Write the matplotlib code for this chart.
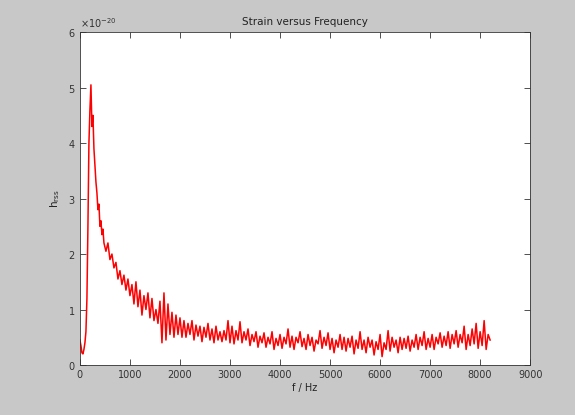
import numpy as np
import matplotlib
matplotlib.use("Agg")
import matplotlib.pyplot as plt
from matplotlib.ticker import ScalarFormatter

# Low-frequency part (Hz, strain in units of 1e-20)
freq_low = [0, 20, 40, 60, 80, 100, 120, 140, 160, 180, 200, 220, 240, 260,
            280, 300, 320, 340, 360, 380, 400, 420, 440, 460, 480]
h_low = [0.45, 0.35, 0.22, 0.2, 0.28, 0.4, 0.6, 1.2, 2.5, 4.0, 4.6, 5.05, 4.3,
         4.5, 3.9, 3.6, 3.3, 3.1, 2.8, 2.9, 2.5, 2.6, 2.35, 2.45, 2.2]

# Higher-frequency part, 40 Hz steps from 520 Hz to 8200 Hz
freq_high_start, freq_high_step = 520, 40
h_high = [
    2.05, 2.2, 1.9, 2.0, 1.75, 1.85, 1.55, 1.7, 1.45, 1.62,
    1.35, 1.55, 1.25, 1.45, 1.1, 1.5, 1.05, 1.35, 0.9, 1.25,
    1.0, 1.3, 0.85, 1.2, 0.8, 1.0, 0.75, 1.15, 0.4, 1.3,
    0.45, 1.1, 0.55, 0.95, 0.5, 0.9, 0.55, 0.85, 0.5, 0.8,
    0.5, 0.75, 0.55, 0.8, 0.45, 0.72, 0.52, 0.7, 0.42, 0.68,
    0.5, 0.75, 0.45, 0.65, 0.4, 0.7, 0.45, 0.6, 0.42, 0.62,
    0.45, 0.8, 0.4, 0.7, 0.38, 0.62, 0.45, 0.78, 0.4, 0.6,
    0.45, 0.65, 0.35, 0.55, 0.42, 0.6, 0.32, 0.52, 0.4, 0.58,
    0.32, 0.5, 0.38, 0.6, 0.28, 0.48, 0.35, 0.55, 0.3, 0.5,
    0.38, 0.65, 0.32, 0.52, 0.28, 0.5, 0.4, 0.6, 0.33, 0.48,
    0.28, 0.55, 0.35, 0.5, 0.25, 0.45, 0.38, 0.62, 0.3, 0.5,
    0.35, 0.58, 0.28, 0.48, 0.22, 0.45, 0.32, 0.55, 0.28, 0.5,
    0.25, 0.48, 0.32, 0.52, 0.2, 0.45, 0.3, 0.6, 0.28, 0.45,
    0.22, 0.5, 0.32, 0.45, 0.18, 0.42, 0.28, 0.55, 0.15, 0.4,
    0.28, 0.62, 0.25, 0.5, 0.32, 0.45, 0.22, 0.5, 0.28, 0.48,
    0.3, 0.52, 0.25, 0.45, 0.32, 0.55, 0.28, 0.5, 0.35, 0.6,
    0.28, 0.48, 0.32, 0.55, 0.28, 0.5, 0.38, 0.58, 0.32, 0.52,
    0.35, 0.6, 0.3, 0.55, 0.38, 0.62, 0.32, 0.55, 0.4, 0.7,
    0.28, 0.55, 0.35, 0.65, 0.38, 0.75, 0.3, 0.6, 0.35, 0.8,
    0.28, 0.55, 0.45,
]
freq_high = freq_high_start + freq_high_step * np.arange(len(h_high))

freq = np.concatenate([freq_low, freq_high])
h = np.concatenate([h_low, h_high]) * 1e-20

title = "Strain versus Frequency"
xlabel = "f / Hz"
ylabel = r"h$_{\rm rss}$"
xticks = [0, 1000, 2000, 3000, 4000, 5000, 6000, 7000, 8000, 9000]
yticks = [0, 1e-20, 2e-20, 3e-20, 4e-20, 5e-20, 6e-20]

bg = "#c8c8c8"
fig = plt.figure(figsize=(5.75, 4.15), dpi=100, facecolor=bg)
ax = fig.add_axes([0.139, 0.1205, 0.783, 0.802])
ax.set_facecolor("white")
ax.plot(freq, h, color="red", lw=1.1)

ax.set_xlim(0, 9000)
ax.set_ylim(0, 6e-20)
ax.set_xticks(xticks)
ax.set_yticks(yticks)
fmt = ScalarFormatter(useMathText=True)
fmt.set_powerlimits((0, 0))
ax.yaxis.set_major_formatter(fmt)
ax.yaxis.get_offset_text().set_fontsize(7)
ax.tick_params(direction="in", top=True, right=True, labelsize=7,
               length=4, width=0.6, colors="#333333")
for s in ax.spines.values():
    s.set_linewidth(0.6)
    s.set_color("#333333")

ax.set_title(title, fontsize=7.5, pad=5, color="#222222")
ax.set_xlabel(xlabel, fontsize=7, labelpad=2, color="#222222")
ax.set_ylabel(ylabel, fontsize=7.5, labelpad=4, color="#222222")

fig.savefig("out.png", dpi=100, facecolor=bg)
